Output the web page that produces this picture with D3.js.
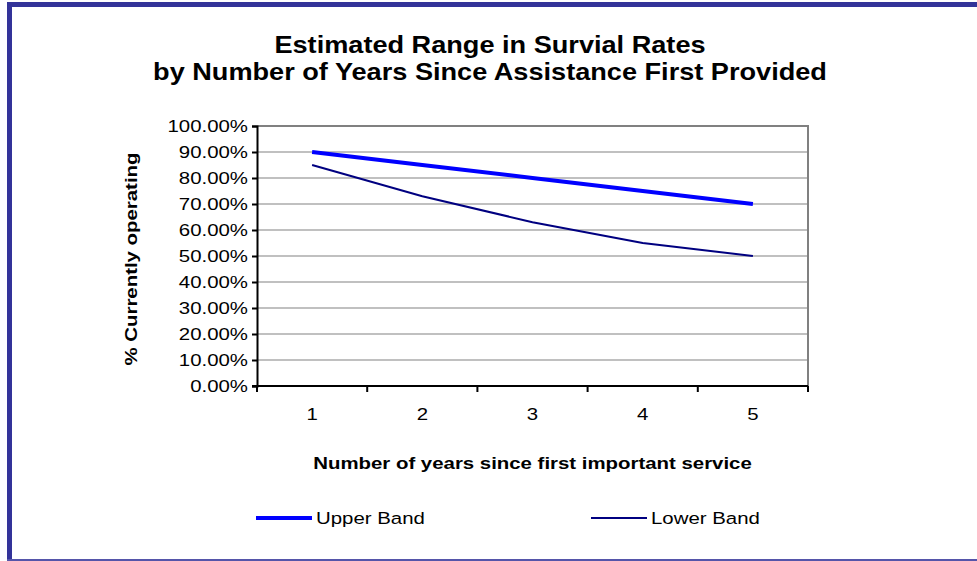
<!DOCTYPE html>
<html>
<head>
<meta charset="utf-8">
<script src="https://cdnjs.cloudflare.com/ajax/libs/d3/7.8.5/d3.min.js"></script>
<style>
  body { margin: 0; background: #fff; }
  text { font-family: Arial, "Liberation Sans", sans-serif; fill: #000; }
</style>
</head>
<body>
<div id="chart"></div>
<script>
// values
var years = [1, 2, 3, 4, 5];
var upperBand = [0.90, 0.85, 0.80, 0.75, 0.70];
var lowerBand = [0.85, 0.73, 0.63, 0.55, 0.50];
var yTicks = [0, 0.1, 0.2, 0.3, 0.4, 0.5, 0.6, 0.7, 0.8, 0.9, 1.0];

var width = 977, height = 561;
var plot = { left: 257, right: 808, top: 126, bottom: 386 };
var sx = 1.2; // the original text is drawn a little wide

var svg = d3.select("#chart")
	.append("svg")
	.attr("width", width)
	.attr("height", height);

// helper for wide text
function wideText(x, y, str, size, bold, anchor, k) {
	return svg.append("text")
		.attr("transform", "translate(" + x + "," + y + ") scale(" + (k || sx) + ",1)")
		.attr("text-anchor", anchor || "middle")
		.style("font-size", size + "px")
		.style("font-weight", bold ? "bold" : "normal")
		.text(str);
}

// outer frame (cropped on the right)
svg.append("line")
	.attr("x1", 9.5).attr("x2", 9.5)
	.attr("y1", 2).attr("y2", 561)
	.style("stroke", "#333399")
	.style("stroke-width", 5);
svg.append("line")
	.attr("x1", 7).attr("x2", width)
	.attr("y1", 4.5).attr("y2", 4.5)
	.style("stroke", "#333399")
	.style("stroke-width", 5);
svg.append("line")
	.attr("x1", 7).attr("x2", width)
	.attr("y1", 560).attr("y2", 560)
	.style("stroke", "#5555aa")
	.style("stroke-width", 2);

var x = d3.scaleBand()
	.domain(years)
	.range([plot.left, plot.right]);

var y = d3.scaleLinear()
	.domain([0, 1])
	.range([plot.bottom, plot.top]);

// gridlines
svg.append("g")
	.selectAll("line")
	.data(yTicks.slice(1, -1))
	.enter().append("line")
	.attr("x1", plot.left)
	.attr("x2", plot.right)
	.attr("y1", function(d) { return y(d); })
	.attr("y2", function(d) { return y(d); })
	.style("stroke", "#c0c0c0")
	.style("stroke-width", 2);

// plot border top and right
svg.append("path")
	.attr("d", "M" + plot.left + "," + y(1) + "H" + plot.right + "V" + plot.bottom)
	.style("fill", "none")
	.style("stroke", "#808080")
	.style("stroke-width", 2);

// y axis
var yAxis = svg.append("g")
	.attr("transform", "translate(" + plot.left + ",0)")
	.call(d3.axisLeft(y).tickValues(yTicks).tickSize(5)
		.tickFormat(function(d) { return (d * 100).toFixed(2) + "%"; }));
yAxis.selectAll("text")
	.attr("x", -9 / sx)
	.attr("dy", "0.35em")
	.attr("transform", "scale(" + sx + ",1)")
	.style("font-size", "17px")
	.style("font-family", "Arial, 'Liberation Sans', sans-serif")
	.style("fill", "#000");
yAxis.selectAll("line, path")
	.style("stroke", "#000")
	.style("stroke-width", 2);

// x axis: ticks between categories
var xAxis = svg.append("g")
	.attr("transform", "translate(0," + plot.bottom + ")");
xAxis.append("line")
	.attr("x1", plot.left - 5).attr("x2", plot.right)
	.style("stroke", "#000")
	.style("stroke-width", 2);
xAxis.selectAll(".xt")
	.data(years.concat([null]))
	.enter().append("line")
	.attr("class", "xt")
	.attr("x1", function(d, i) { return i < years.length ? x(d) : plot.right; })
	.attr("x2", function(d, i) { return i < years.length ? x(d) : plot.right; })
	.attr("y1", 0).attr("y2", 6)
	.style("stroke", "#000")
	.style("stroke-width", 2);
years.forEach(function(d) {
	wideText(x(d) + x.bandwidth() / 2, plot.bottom + 34, d, 17, false);
});

// series
var line = d3.line()
	.x(function(d, i) { return x(years[i]) + x.bandwidth() / 2; })
	.y(function(d) { return y(d); });

svg.append("path")
	.datum(lowerBand)
	.attr("d", line)
	.style("fill", "none")
	.style("stroke", "#000080")
	.style("stroke-width", 2);

svg.append("path")
	.datum(upperBand)
	.attr("d", line)
	.style("fill", "none")
	.style("stroke", "#0000ff")
	.style("stroke-width", 4);

// titles
wideText(490, 53, "Estimated Range in Survial Rates", 23, true, "middle", 1.18);
wideText(490, 80, "by Number of Years Since Assistance First Provided", 23, true, "middle", 1.18);

svg.append("text")
	.attr("transform", "translate(137," + ((plot.top + plot.bottom) / 2 + 3) + ") rotate(-90) scale(" + sx + ",1)")
	.attr("text-anchor", "middle")
	.style("font-size", "17px").style("font-weight", "bold")
	.text("% Currently operating");

wideText((plot.left + plot.right) / 2, 469, "Number of years since first important service", 17, true);

// legend
var legend = [
	{ name: "Upper Band", color: "#0000ff", w: 4, x: 256 },
	{ name: "Lower Band", color: "#000080", w: 2, x: 591 }
];
legend.forEach(function(d) {
	svg.append("line")
		.attr("x1", d.x).attr("x2", d.x + 56)
		.attr("y1", 518).attr("y2", 518)
		.style("stroke", d.color)
		.style("stroke-width", d.w);
	wideText(d.x + 60, 524, d.name, 17, false, "start");
});
</script>
</body>
</html>
